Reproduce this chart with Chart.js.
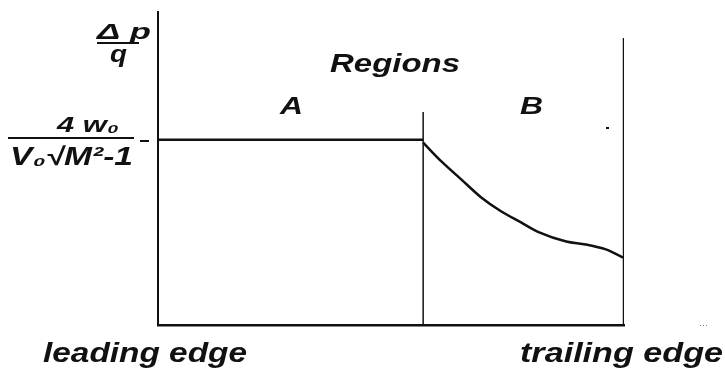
<!DOCTYPE html>
<html>
<head>
<meta charset="utf-8">
<script src="https://cdn.jsdelivr.net/npm/chart.js@4"></script>
<style>
  body { margin: 0; background: #fff; }
  #wrap { width: 725px; height: 375px; }
</style>
</head>
<body>
<div id="wrap"><canvas id="chart" width="725" height="375"></canvas></div>
<script>
// chord position runs 0 (leading edge) .. 1 (trailing edge); pressure in units of 4w0/(V0*sqrt(M^2-1))
const levelA = 1.0;
const regionSplit = 0.569;
const curveX = [0.569, 0.607, 0.650, 0.693, 0.736, 0.779, 0.818, 0.876, 0.918, 0.961, 0.998];
const curveY = [0.985, 0.886, 0.788, 0.690, 0.614, 0.554, 0.50, 0.451, 0.435, 0.408, 0.364];
const splitTop = 1.15;
const trailTop = 1.55;
const yMax = 1.69;

const axisLabels = ["leading edge", "trailing edge"];
const regionLabels = ["A", "B"];
const regionTitle = "Regions";

const black = "#111";

function pts(xs, ys) {
    return xs.map((x, i) => ({ x: x, y: ys[i] }));
}

// draw text squeezed / stretched to a given width
function fitText(ctx, text, left, base, width, size) {
    ctx.save();
    ctx.font = "bold italic " + size + "px 'Liberation Sans', Arial, sans-serif";
    const w = ctx.measureText(text).width;
    ctx.translate(left, base);
    ctx.scale(width / w, 1);
    ctx.fillText(text, 0, 0);
    ctx.restore();
}

const labelsPlugin = {
    id: "labels",
    afterDraw(chart) {
        const ctx = chart.ctx;
        ctx.save();
        ctx.fillStyle = black;
        ctx.textBaseline = "alphabetic";

        // y axis title  Δp / q
        fitText(ctx, "Δ p", 97, 39, 54, 22);
        ctx.fillRect(97, 42, 42, 2);
        fitText(ctx, "q", 110, 62, 17, 24);

        // reference level 4w0 / (V0 sqrt(M^2-1))
        fitText(ctx, "4 w₀", 57, 132, 62, 22);
        ctx.fillRect(8, 137, 126, 2);
        fitText(ctx, "V₀√M²-1", 10, 165, 123, 25);
        ctx.fillRect(140, 140, 9, 2);

        fitText(ctx, regionTitle, 330, 72, 130, 25);
        fitText(ctx, regionLabels[0], 280, 114, 23, 24);
        fitText(ctx, regionLabels[1], 520, 114, 23, 24);

        fitText(ctx, axisLabels[0], 43, 362, 204, 27);
        fitText(ctx, axisLabels[1], 520, 362, 203, 27);

        ctx.fillRect(606, 127, 3, 2);
        ctx.fillStyle = "#888";
        ctx.fillRect(700, 325, 1, 1);
        ctx.fillRect(703, 325, 1, 1);
        ctx.fillRect(706, 325, 1, 1);
        ctx.restore();
    }
};

const ctx = document.getElementById("chart").getContext("2d");
new Chart(ctx, {
    type: "line",
    data: {
        datasets: [
            { data: pts([0, regionSplit], [levelA, levelA]), borderWidth: 2.5 },
            { data: pts(curveX, curveY), borderWidth: 2.5, cubicInterpolationMode: "monotone" },
            { data: pts([regionSplit, regionSplit], [0, splitTop]), borderWidth: 1.5 },
            { data: pts([1, 1], [0, trailTop]), borderWidth: 2.5 }
        ].map(d => Object.assign({ borderColor: black, pointRadius: 0, fill: false }, d))
    },
    plugins: [labelsPlugin],
    options: {
        responsive: false,
        animation: false,
        layout: { padding: { left: 150, right: 101, top: 12, bottom: 42 } },
        plugins: { legend: { display: false }, tooltip: { enabled: false } },
        scales: {
            x: {
                type: "linear", min: 0, max: 1,
                grid: { display: false },
                ticks: { display: false },
                border: { display: true, color: black, width: 2.5 }
            },
            y: {
                min: 0, max: yMax,
                grid: { display: false },
                ticks: { display: false },
                border: { display: true, color: black, width: 2 }
            }
        }
    }
});
</script>
</body>
</html>
